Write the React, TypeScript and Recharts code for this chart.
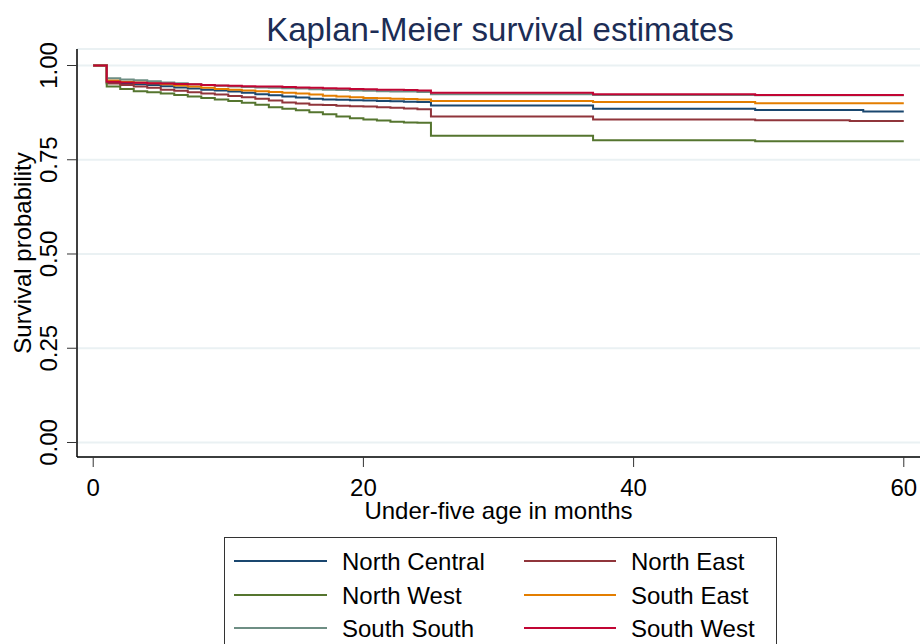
import React from "react";
import { CartesianGrid, Label, Line, LineChart, XAxis, YAxis } from "recharts";

// months at which at least one curve steps (KM estimates hold until the next one)
const months = [
  0, 1, 2, 3, 4, 5, 6, 7, 8, 9, 10, 11, 12, 13, 14, 15, 16, 17, 18, 19, 20, 21, 22, 23, 24, 25, 37, 49, 56, 57, 60,
];

const northCentral = [
  1, 0.955, 0.952, 0.95, 0.948, 0.945, 0.942, 0.939, 0.936, 0.934, 0.931, 0.928, 0.924, 0.921, 0.918, 0.915, 0.912,
  0.91, 0.909, 0.908, 0.907, 0.906, 0.905, 0.904, 0.903, 0.894, 0.885, 0.882, 0.882, 0.878, 0.878,
];
const northEast = [
  1, 0.952, 0.948, 0.944, 0.941, 0.936, 0.933, 0.929, 0.926, 0.923, 0.919, 0.916, 0.912, 0.907, 0.902, 0.899, 0.896,
  0.895, 0.893, 0.892, 0.891, 0.889, 0.888, 0.886, 0.884, 0.865, 0.857, 0.855, 0.853, 0.853, 0.853,
];
const northWest = [
  1, 0.944, 0.938, 0.932, 0.929, 0.926, 0.922, 0.918, 0.914, 0.91, 0.906, 0.901, 0.896, 0.889, 0.885, 0.881, 0.876,
  0.871, 0.865, 0.86, 0.857, 0.854, 0.851, 0.849, 0.848, 0.814, 0.802, 0.799, 0.799, 0.799, 0.799,
];
const southEast = [
  1, 0.96, 0.957, 0.955, 0.953, 0.95, 0.947, 0.944, 0.941, 0.938, 0.936, 0.934, 0.932, 0.93, 0.928, 0.926, 0.923,
  0.92, 0.918, 0.916, 0.914, 0.913, 0.912, 0.911, 0.91, 0.906, 0.903, 0.9, 0.9, 0.9, 0.9,
];
const southSouth = [
  1, 0.966, 0.963, 0.961, 0.958, 0.955, 0.953, 0.95, 0.948, 0.946, 0.944, 0.943, 0.942, 0.941, 0.94, 0.939, 0.937,
  0.936, 0.935, 0.934, 0.933, 0.932, 0.931, 0.931, 0.93, 0.924, 0.922, 0.921, 0.921, 0.921, 0.921,
];
const southWest = [
  1, 0.957, 0.955, 0.954, 0.953, 0.952, 0.951, 0.95, 0.948, 0.947, 0.946, 0.945, 0.944, 0.944, 0.943, 0.942, 0.941,
  0.94, 0.939, 0.938, 0.937, 0.936, 0.936, 0.935, 0.934, 0.928, 0.924, 0.922, 0.922, 0.922, 0.922,
];

const xTicks = [0, 20, 40, 60];
const yTicks = [0, 0.25, 0.5, 0.75, 1];

const series = [
  { key: "nc", name: "North Central", values: northCentral, color: "#1a476f" },
  { key: "ne", name: "North East", values: northEast, color: "#90353b" },
  { key: "nw", name: "North West", values: northWest, color: "#55752f" },
  { key: "se", name: "South East", values: southEast, color: "#e37e00" },
  { key: "ss", name: "South South", values: southSouth, color: "#6e8e84" },
  { key: "sw", name: "South West", values: southWest, color: "#c10534" },
];

const data = months.map((m, i) => {
  const row: Record<string, number> = { month: m };
  series.forEach((s) => (row[s.key] = s.values[i]));
  return row;
});

const FONT = "'Liberation Sans', Arial, sans-serif";

const YTick = ({ x, y, payload }: any) => (
  <text
    x={x}
    y={y}
    transform={`rotate(-90 ${x} ${y})`}
    textAnchor="middle"
    fontSize={24}
    fontFamily={FONT}
    fill="#000"
  >
    {Number(payload.value).toFixed(2)}
  </text>
);

const StataLegend = () => {
  const rows = [561, 595, 628];
  const cols = [
    { x1: 234, x2: 327, tx: 342 },
    { x1: 524, x2: 616, tx: 631 },
  ];
  return (
    <g>
      <rect x={224.5} y={537.5} width={552} height={130} fill="#fff" stroke="#333" strokeWidth={1} />
      {series.map((s, i) => {
        const c = cols[i % 2];
        const y = rows[Math.floor(i / 2)];
        return (
          <g key={s.key}>
            <line x1={c.x1} x2={c.x2} y1={y} y2={y} stroke={s.color} strokeWidth={2} />
            <text x={c.tx} y={y + 8.5} fontSize={24} fontFamily={FONT} fill="#000">
              {s.name}
            </text>
          </g>
        );
      })}
    </g>
  );
};

export default function App() {
  return (
    <div
      style={{
        position: "absolute",
        left: 0,
        top: 0,
        width: 920,
        height: 644,
        overflow: "hidden",
        background: "#fff",
        fontFamily: FONT,
      }}
    >
      <LineChart width={920} height={644} data={data} margin={{ top: 49, right: 0, left: 0, bottom: 117 }}>
        <CartesianGrid horizontal vertical={false} stroke="#eaf1f3" strokeWidth={2} />
        <XAxis
          dataKey="month"
          type="number"
          domain={[-1.2, 61.2]}
          ticks={xTicks}
          allowDataOverflow
          height={70}
          tickSize={10}
          tickMargin={12}
          axisLine={{ stroke: "#000", strokeWidth: 1.5 }}
          tickLine={{ stroke: "#333" }}
          tick={{ fill: "#000", fontSize: 24, fontFamily: FONT }}
        >
          <Label
            content={({ viewBox }: any) => (
              <text
                x={viewBox.x + viewBox.width / 2}
                y={viewBox.y + 62}
                textAnchor="middle"
                fontSize={24}
                fontFamily={FONT}
                fill="#000"
              >
                Under-five age in months
              </text>
            )}
          />
        </XAxis>
        <YAxis
          type="number"
          domain={[-0.0385, 1.0438]}
          ticks={yTicks}
          allowDataOverflow
          width={77}
          tickSize={10}
          tickMargin={10}
          axisLine={{ stroke: "#000", strokeWidth: 1.5 }}
          tickLine={{ stroke: "#333" }}
          tick={<YTick />}
        >
          <Label
            content={({ viewBox }: any) => {
              const x = viewBox.x + 31;
              const y = viewBox.y + viewBox.height / 2;
              return (
                <text
                  x={x}
                  y={y}
                  transform={`rotate(-90 ${x} ${y})`}
                  textAnchor="middle"
                  fontSize={24}
                  fontFamily={FONT}
                  fill="#000"
                >
                  Survival probability
                </text>
              );
            }}
          />
        </YAxis>
        {series.map((s) => (
          <Line
            key={s.key}
            dataKey={s.key}
            name={s.name}
            type="stepAfter"
            stroke={s.color}
            strokeWidth={2}
            dot={false}
            activeDot={false}
            isAnimationActive={false}
          />
        ))}
      </LineChart>
      <svg
        width={920}
        height={644}
        style={{ position: "absolute", left: 0, top: 0, pointerEvents: "none" }}
      >
        <text x={500} y={41} textAnchor="middle" fontSize={33} fontFamily={FONT} fill="#1c2d55">
          Kaplan-Meier survival estimates
        </text>
        <StataLegend />
      </svg>
    </div>
  );
}
